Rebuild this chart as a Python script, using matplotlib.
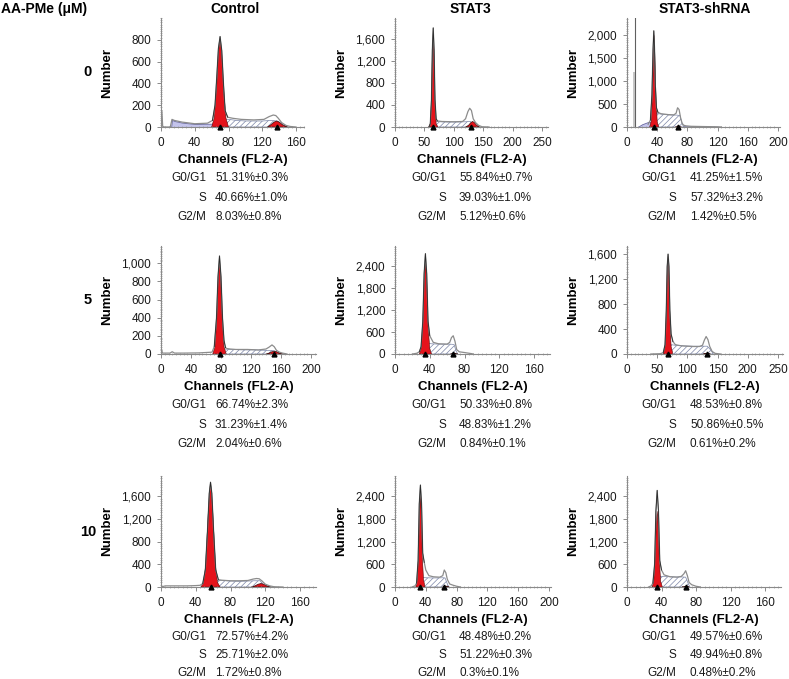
import matplotlib
matplotlib.use("Agg")
import matplotlib.pyplot as plt
from matplotlib.ticker import AutoMinorLocator, FuncFormatter

plt.rcParams['font.family'] = ['Liberation Sans', 'DejaVu Sans']
plt.rcParams['hatch.linewidth'] = 0.5

W, H = 789, 679

col_titles = ["Control", "STAT3", "STAT3-shRNA"]
doses = ["0", "5", "10"]

# axis ranges per panel (row-major)
x_max = [170, 260, 202, 207, 178, 258, 178, 203, 178]
x_step = [40, 50, 40, 40, 40, 50, 40, 40, 40]
x_last = [160, 250, 200, 200, 160, 250, 160, 200, 160]
y_max = [1000, 1980, 2380, 1190, 2960, 1730, 1960, 2940, 2930]
y_step = [200, 400, 500, 200, 600, 400, 400, 600, 600]
y_last = [800, 1600, 2000, 1000, 2400, 1600, 1600, 2400, 2400]

# measured histogram outline (channel, count)
data_x = [
    [0, 1, 2, 4, 11, 13, 16, 25, 40, 55, 61, 64, 66, 68, 70, 72, 74, 76, 79, 85, 95, 110, 122, 128, 133, 136, 139, 143, 148, 153, 160],
    [58, 60, 62, 63.5, 65, 66.5, 68, 70, 72, 80, 100, 115, 120, 124, 127, 130, 133, 137, 142, 148, 160],
    [28, 31, 33, 34.5, 35.5, 36.5, 37.5, 39, 41, 45, 55, 62, 65, 67, 69, 71, 73, 75, 78, 85, 100, 120, 125],
    [0, 1, 2, 5, 12, 15, 18, 30, 50, 68, 71, 74, 76, 78, 80, 82, 84, 86, 88, 92, 100, 115, 130, 140, 144, 148, 151, 154, 158, 162, 168],
    [20, 25, 28, 30, 32, 33.5, 35, 36.5, 38, 40, 44, 50, 60, 63, 65, 67, 69, 71, 74, 80, 88, 90],
    [40, 55, 60, 63, 65, 66.5, 68, 69.5, 71, 73, 76, 80, 90, 110, 120, 125, 128, 131, 134, 137, 141, 146, 155],
    [0, 5, 15, 30, 40, 45, 48, 51, 53.5, 55.5, 57, 58.5, 60.5, 63, 66, 70, 80, 90, 100, 106, 110, 113, 116, 120, 125, 130, 140],
    [22, 26, 28, 30, 31.5, 33, 34.5, 36, 38, 40, 44, 50, 58, 62, 64, 66, 68, 71, 75, 80, 85],
    [25, 28, 30, 32, 33.5, 35, 36.5, 38, 40, 43, 50, 58, 63, 66, 68, 70, 72, 75, 80, 85],
]
data_y = [
    [0, 150, 5, 0, 0, 70, 60, 45, 30, 35, 60, 200, 450, 720, 830, 700, 400, 150, 90, 80, 70, 65, 70, 95, 110, 105, 80, 40, 15, 5, 0],
    [0, 60, 500, 1400, 1800, 1400, 500, 150, 110, 100, 95, 100, 150, 280, 340, 300, 150, 80, 30, 5, 0],
    [60, 150, 700, 1700, 2100, 1700, 900, 420, 320, 290, 270, 265, 300, 420, 380, 200, 80, 40, 25, 15, 10, 5, 0],
    [0, 40, 10, 10, 10, 25, 10, 10, 12, 20, 80, 400, 850, 1080, 850, 400, 150, 70, 60, 55, 50, 50, 45, 55, 75, 100, 80, 40, 20, 10, 0],
    [0, 20, 60, 200, 900, 2200, 2750, 2200, 900, 500, 320, 280, 270, 320, 450, 500, 350, 120, 60, 40, 10, 0],
    [0, 5, 20, 150, 700, 1400, 1600, 1400, 700, 320, 200, 150, 130, 120, 120, 140, 220, 280, 230, 120, 40, 10, 0],
    [0, 20, 20, 20, 25, 30, 60, 300, 1000, 1650, 1850, 1650, 1000, 300, 130, 120, 110, 110, 115, 140, 150, 145, 110, 50, 20, 5, 0],
    [0, 30, 100, 700, 2200, 2700, 2200, 900, 650, 450, 300, 270, 260, 300, 450, 380, 200, 80, 50, 20, 0],
    [0, 30, 100, 600, 2000, 2550, 2000, 700, 450, 320, 270, 260, 280, 350, 430, 300, 120, 60, 20, 0],
]

# fitted G0/G1 peak
g1_x = [
    [60, 63, 66, 68, 69.5, 70.5, 72, 74, 77, 80],
    [57, 60, 62, 63.5, 65, 66.5, 68, 70, 73],
    [30, 32, 33.5, 35, 36, 37, 38.5, 40, 42],
    [69, 72, 74.5, 76.5, 78, 79.5, 81.5, 84, 87],
    [28, 30, 32, 33.5, 35, 36.5, 38, 40, 42],
    [60, 63, 65, 66.5, 68, 69.5, 71, 73, 76],
    [46, 49, 51.5, 54, 56, 57, 58, 60, 62.5, 65, 68],
    [27, 29, 30.5, 32, 33, 34, 35.5, 37, 39],
    [29, 31, 32.5, 34, 35, 36, 37.5, 39, 41],
]
g1_y = [
    [0, 80, 380, 680, 780, 780, 660, 360, 80, 0],
    [0, 60, 450, 1250, 1700, 1250, 450, 60, 0],
    [0, 120, 600, 1500, 2000, 1500, 600, 120, 0],
    [0, 80, 400, 850, 1040, 850, 400, 80, 0],
    [0, 150, 800, 2000, 2550, 2000, 800, 150, 0],
    [0, 120, 600, 1250, 1550, 1250, 600, 120, 0],
    [0, 80, 400, 1200, 1700, 1820, 1700, 1200, 400, 80, 0],
    [0, 200, 800, 2000, 2500, 2000, 800, 200, 0],
    [0, 150, 700, 1700, 2000, 1700, 700, 150, 0],
]

# fitted S phase (hatched)
s_x = [
    [68, 72, 80, 90, 100, 110, 120, 130, 138, 145, 150],
    [64, 68, 75, 90, 105, 120, 128, 134, 138],
    [36, 38, 42, 50, 60, 66, 70, 73, 75],
    [76, 84, 95, 110, 125, 140, 150, 155, 160],
    [34, 37, 42, 50, 58, 64, 68, 70, 72],
    [66, 72, 80, 95, 110, 125, 133, 139, 143],
    [55, 62, 70, 80, 90, 100, 108, 114, 118, 120],
    [32, 35, 40, 48, 56, 62, 65, 68, 70],
    [34, 37, 42, 50, 58, 64, 68, 71, 73],
]
s_y = [
    [0, 75, 70, 60, 55, 55, 55, 60, 55, 20, 0],
    [0, 100, 95, 90, 90, 95, 100, 60, 0],
    [0, 300, 290, 270, 260, 260, 250, 80, 0],
    [0, 55, 50, 45, 45, 40, 40, 20, 0],
    [0, 290, 280, 270, 270, 270, 260, 100, 0],
    [0, 150, 140, 130, 125, 125, 125, 60, 0],
    [0, 120, 115, 105, 100, 105, 110, 110, 40, 0],
    [0, 250, 245, 240, 240, 245, 240, 80, 0],
    [0, 280, 275, 270, 265, 265, 260, 90, 0],
]

# fitted G2/M peak
g2_x = [
    [126, 130, 134, 137, 140, 144, 150],
    [120, 125, 129, 132, 135, 139, 144],
    [64, 66, 68, 70, 72],
    [140, 144, 148, 151, 154, 158, 163],
    [64, 66, 68, 70, 72],
    [126, 129, 132, 135, 138],
    [104, 108, 112, 115, 118, 122, 127],
    [62, 64, 66, 68, 70],
    [64, 66, 68, 70, 72],
]
g2_y = [
    [0, 20, 45, 55, 45, 20, 0],
    [0, 30, 80, 100, 80, 30, 0],
    [0, 15, 25, 15, 0],
    [0, 10, 25, 30, 25, 10, 0],
    [0, 15, 25, 15, 0],
    [0, 5, 8, 5, 0],
    [0, 20, 50, 60, 50, 20, 0],
    [0, 15, 25, 15, 0],
    [0, 12, 20, 12, 0],
]

# debris region (only where visible)
debris_x = {0: [12, 13, 16, 25, 40, 55, 62, 70, 80, 100, 130, 150],
            2: [14, 20, 28, 34, 38, 45, 60, 72, 80, 100, 120, 125]}
debris_y = {0: [0, 65, 55, 40, 28, 30, 30, 20, 15, 10, 5, 0],
            2: [0, 60, 110, 120, 80, 40, 25, 20, 15, 10, 5, 0]}

peak_marks = [[70, 137], [65, 130], [36, 68], [78, 150], [35, 67],
              [68, 132], [57], [33, 64], [35, 68]]

phase_names = ["G0/G1", "S", "G2/M"]
phase_vals = [
    ["51.31%±0.3%", "40.66%±1.0%", "8.03%±0.8%"],
    ["55.84%±0.7%", "39.03%±1.0%", "5.12%±0.6%"],
    ["41.25%±1.5%", "57.32%±3.2%", "1.42%±0.5%"],
    ["66.74%±2.3%", "31.23%±1.4%", "2.04%±0.6%"],
    ["50.33%±0.8%", "48.83%±1.2%", "0.84%±0.1%"],
    ["48.53%±0.8%", "50.86%±0.5%", "0.61%±0.2%"],
    ["72.57%±4.2%", "25.71%±2.0%", "1.72%±0.8%"],
    ["48.48%±0.2%", "51.22%±0.3%", "0.3%±0.1%"],
    ["49.57%±0.6%", "49.94%±0.8%", "0.48%±0.2%"],
]

# layout in pixels
col_left = [161, 395, 627]
row_zero = [127, 354, 587]
row_top = [18, 246, 476]
col_lbl_right = [206, 446, 676]
col_val_left = [215, 459, 690]
col_center = [235, 470, 705]
px_per_unit = [0.844, 0.588, 0.755, 0.75, 0.869, 0.604, 0.869, 0.77, 0.8625]
stat_offsets = [[51, 70.5, 90], [51, 70.5, 90], [50, 68, 86]]

fig = plt.figure(figsize=(W / 100, H / 100), dpi=100)


def fx(px):
    return px / W


def fy(py):
    return 1 - py / H


comma = FuncFormatter(lambda v, p: f"{int(v):,}")

for r in range(3):
    for c in range(3):
        i = r * 3 + c
        width = x_max[i] * px_per_unit[i]
        ax = fig.add_axes([fx(col_left[c]), fy(row_zero[r]), fx(width),
                           (row_zero[r] - row_top[r]) / H])
        ax.set_xlim(0, x_max[i])
        ax.set_ylim(0, y_max[i])

        if i == 1:
            ax.fill_between([0, 2.5], 0, y_max[i], color='#b0b0b0', lw=0)
        if i == 2:
            ax.fill_between([8.5, 11.5], 0, 1200, color='#c8c8c8', lw=0)
            ax.plot([11, 11], [0, y_max[i]], color='#606060', lw=0.8)

        if i in debris_x:
            ax.fill_between(debris_x[i], 0, debris_y[i], facecolor='#c4c4ec',
                            edgecolor='#6a6aa0', lw=0.6)
        ax.fill_between(s_x[i], 0, s_y[i], facecolor='white',
                        edgecolor='#7c86a8', hatch='//////', lw=0.5)
        ax.plot(data_x[i], data_y[i], color='#8c8c8c', lw=0.9)
        # dark outline of the measured G1 peak around the fit
        lo, hi = g1_x[i][0], g1_x[i][-1]
        tip = [(x, y) for x, y in zip(data_x[i], data_y[i]) if lo <= x <= hi]
        ax.plot([p[0] for p in tip], [p[1] for p in tip], color='#2a2a2a', lw=0.6)
        ax.fill(g1_x[i], g1_y[i], facecolor='#e4131b', edgecolor='#5a0a0a', lw=0.4)
        ax.fill(g2_x[i], g2_y[i], facecolor='#e4131b', edgecolor='#3a1010', lw=0.5)
        ax.plot(peak_marks[i], [0] * len(peak_marks[i]), marker='^', ls='none',
                color='black', ms=3.5, clip_on=False, zorder=5)

        for s in ['top', 'right']:
            ax.spines[s].set_visible(False)
        for s in ['left', 'bottom']:
            ax.spines[s].set_color('#8a8a8a')
            ax.spines[s].set_linewidth(0.8)
        ax.set_xticks(list(range(0, x_last[i] + 1, x_step[i])))
        ax.set_yticks(list(range(0, y_last[i] + 1, y_step[i])))
        ax.xaxis.set_minor_locator(AutoMinorLocator(8))
        ax.yaxis.set_minor_locator(AutoMinorLocator(10))
        ax.yaxis.set_major_formatter(comma)
        ax.tick_params(which='major', length=3, width=0.7, color='#8a8a8a',
                       labelsize=8.5, pad=4, labelcolor='#1a1a1a')
        ax.tick_params(which='minor', length=1.6, width=0.5, color='#9a9a9a',
                       direction='inout')
        ax.set_ylabel("Number", fontsize=9.5, fontweight='bold')
        ax.yaxis.set_label_coords(-48 / width, 0.5)
        ax.set_xlabel("Channels (FL2-A)", fontsize=9.5, fontweight='bold', labelpad=4)

        for k in range(3):
            ty = row_zero[r] + stat_offsets[r][k]
            fig.text(fx(col_lbl_right[c]), fy(ty), phase_names[k], ha='right',
                     va='center', fontsize=8.5, color='#1a1a1a')
            fig.text(fx(col_val_left[c]), fy(ty), phase_vals[i][k], ha='left',
                     va='center', fontsize=8.5, color='#1a1a1a')

for c in range(3):
    fig.text(fx(col_center[c]), fy(9), col_titles[c], ha='center', va='center',
             fontsize=10, fontweight='bold')
fig.text(fx(1), fy(9), "AA-PMe (μM)", ha='left', va='center', fontsize=10,
         fontweight='bold')
for r, lbl in enumerate(doses):
    fig.text(fx(88), fy((row_zero[r] + row_top[r]) / 2), lbl,
             ha='center', va='center', fontsize=10.5, fontweight='bold')

fig.savefig("out.png", dpi=100)
